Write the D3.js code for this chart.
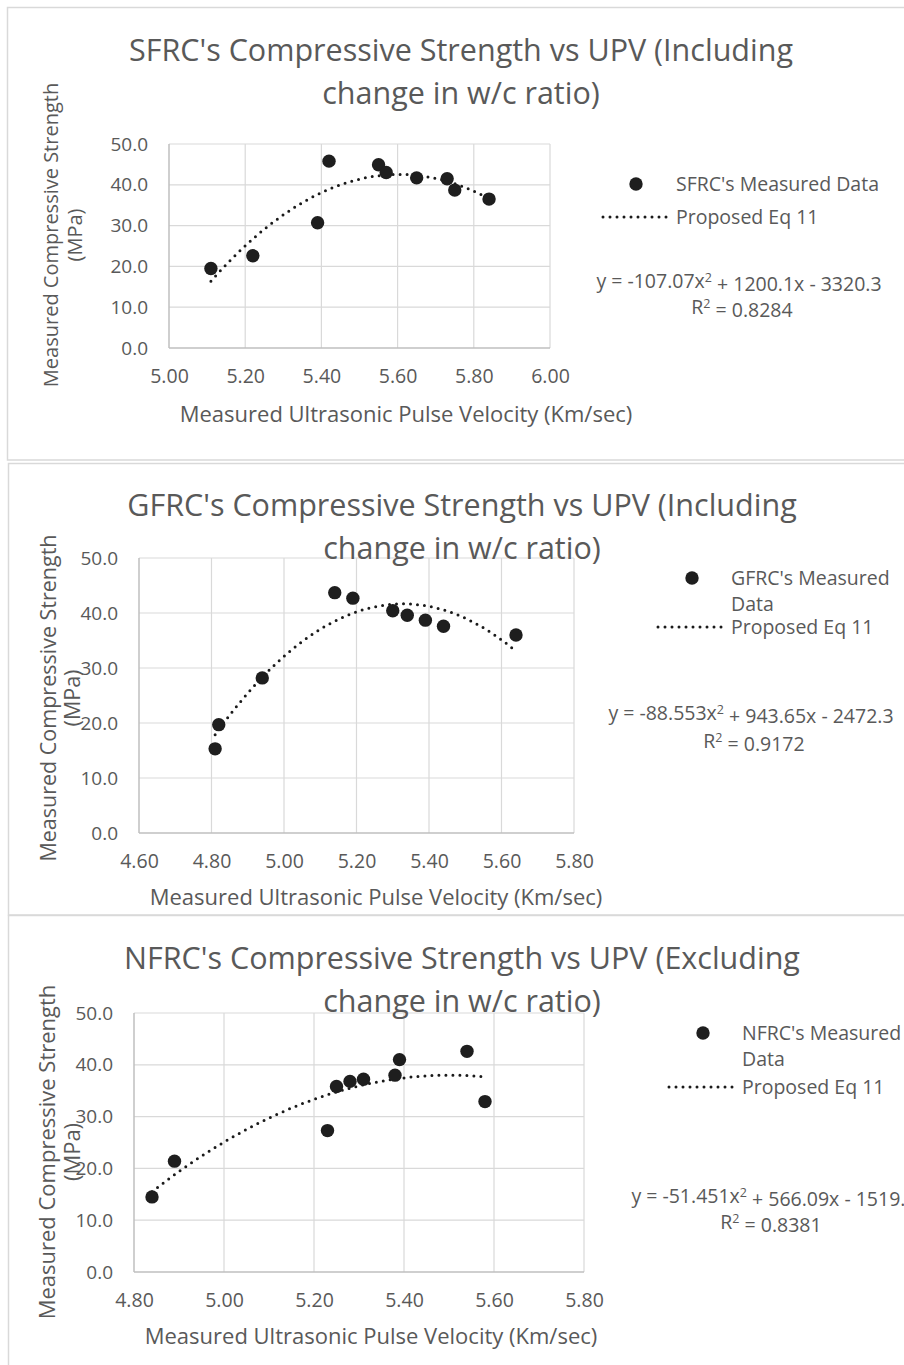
<!DOCTYPE html>
<html>
<head>
<meta charset="utf-8">
<script src="https://cdn.jsdelivr.net/npm/d3@7"></script>
<style>
  body { margin: 0; background: #fff; }
  svg { display: block; }
  text { font-family: "Open Sans", sans-serif; fill: #595959; }
</style>
</head>
<body>
<div id="chart"></div>
<script>
let sfrcUpv = [5.11, 5.22, 5.39, 5.42, 5.55, 5.57, 5.65, 5.73, 5.75, 5.84];
let sfrcStrength = [19.5, 22.6, 30.7, 45.8, 44.9, 43.0, 41.7, 41.5, 38.7, 36.5];
let gfrcUpv = [4.81, 4.82, 4.94, 5.14, 5.19, 5.30, 5.34, 5.39, 5.44, 5.64];
let gfrcStrength = [15.3, 19.7, 28.2, 43.7, 42.7, 40.4, 39.6, 38.7, 37.6, 36.0];
let nfrcUpv = [4.84, 4.89, 5.23, 5.25, 5.28, 5.31, 5.38, 5.39, 5.54, 5.58];
let nfrcStrength = [14.5, 21.4, 27.3, 35.8, 36.8, 37.2, 38.0, 41.0, 42.6, 32.9];

// proposed eq 11 coefficients (a x^2 + b x + c), as printed on each chart
let sfrcFit = [-107.07, 1200.1, -3320.3];
let gfrcFit = [-88.553, 943.65, -2472.3];
let nfrcFit = [-51.451, 566.09, -1519.1];

let sfrcXTicks = [5.0, 5.2, 5.4, 5.6, 5.8, 6.0];
let gfrcXTicks = [4.6, 4.8, 5.0, 5.2, 5.4, 5.6, 5.8];
let nfrcXTicks = [4.8, 5.0, 5.2, 5.4, 5.6, 5.8];
let yTicks = [0, 10, 20, 30, 40, 50];

let titles = [
    ["SFRC's Compressive Strength vs UPV (Including", "change in w/c ratio)"],
    ["GFRC's Compressive Strength vs UPV (Including", "change in w/c ratio)"],
    ["NFRC's Compressive Strength vs UPV (Excluding", "change in w/c ratio)"]
];
let legendNames = [["SFRC's Measured Data"], ["GFRC's Measured", "Data"], ["NFRC's Measured", "Data"]];
let r2Values = ["0.8284", "0.9172", "0.8381"];

let W = 904, H = 1365;
let svg = d3.select("#chart").append("svg")
    .attr("width", W)
    .attr("height", H);

let fmtCoef = function(v) { return String(Math.abs(v)); };

// layout per panel
let panels = [
    {upv: sfrcUpv, str: sfrcStrength, fit: sfrcFit, xt: sfrcXTicks,
     box: [7.5, 7.5, 460],
     plot: {l: 169, r: 550, t: 144, b: 348},
     titleY: [61, 104], titleX: 461,
     xTitle: [406, 422], yTitle: [50, 74, 235], ySize: 20,
     leg: {mx: 636, my: 184, tx: 676, ly: 217, lx0: 603, lx1: 668},
     eq: {x: 739, y: 288, ry: 314}},
    {upv: gfrcUpv, str: gfrcStrength, fit: gfrcFit, xt: gfrcXTicks,
     box: [8.5, 463.5, 915],
     plot: {l: 139, r: 574, t: 558, b: 833},
     titleY: [516, 559], titleX: 462,
     xTitle: [376, 905], yTitle: [48, 72, 698], ySize: 21.5,
     leg: {mx: 692, my: 578, tx: 731, ly: 627, lx0: 658, lx1: 727},
     eq: {x: 751, y: 720, ry: 748}},
    {upv: nfrcUpv, str: nfrcStrength, fit: nfrcFit, xt: nfrcXTicks,
     box: [8.5, 915.5, 1400],
     plot: {l: 134, r: 584, t: 1013, b: 1272},
     titleY: [969, 1012], titleX: 462,
     xTitle: [371, 1344], yTitle: [47, 72, 1152], ySize: 22,
     leg: {mx: 703, my: 1033, tx: 742, ly: 1087, lx0: 669, lx1: 737},
     eq: {x: 774, y: 1203, ry: 1229}}
];

panels.forEach(function(p, i) {
    let g = svg.append("g").attr("class", "panel-" + i);

    // chart area border
    g.append("rect")
        .attr("x", p.box[0]).attr("y", p.box[1])
        .attr("width", W + 20).attr("height", p.box[2] - p.box[1])
        .attr("fill", "#fff")
        .attr("stroke", "#d9d9d9")
        .attr("stroke-width", 1.5);

    let x = d3.scaleLinear().domain([p.xt[0], p.xt[p.xt.length - 1]]).range([p.plot.l, p.plot.r]);
    let y = d3.scaleLinear().domain([0, 50]).range([p.plot.b, p.plot.t]);

    // gridlines
    g.append("g").selectAll("line.vg")
        .data(p.xt.slice(1))
        .enter().append("line")
        .attr("x1", d => x(d)).attr("x2", d => x(d))
        .attr("y1", p.plot.t).attr("y2", p.plot.b)
        .attr("stroke", "#d9d9d9").attr("stroke-width", 1.2);
    g.append("g").selectAll("line.hg")
        .data(yTicks.slice(1))
        .enter().append("line")
        .attr("x1", p.plot.l).attr("x2", p.plot.r)
        .attr("y1", d => y(d)).attr("y2", d => y(d))
        .attr("stroke", "#d9d9d9").attr("stroke-width", 1.2);

    // axis lines
    g.append("line")
        .attr("x1", p.plot.l).attr("x2", p.plot.l)
        .attr("y1", p.plot.t).attr("y2", p.plot.b)
        .attr("stroke", "#bfbfbf").attr("stroke-width", 1.5);
    g.append("line")
        .attr("x1", p.plot.l).attr("x2", p.plot.r)
        .attr("y1", p.plot.b).attr("y2", p.plot.b)
        .attr("stroke", "#bfbfbf").attr("stroke-width", 1.5);

    // tick labels through d3 axes
    let xAxis = d3.axisBottom(x).tickValues(p.xt).tickFormat(d3.format(".2f"))
        .tickSize(0).tickPadding(21);
    let yAxis = d3.axisLeft(y).tickValues(yTicks).tickFormat(d3.format(".1f"))
        .tickSize(0).tickPadding(21);
    let xa = g.append("g").attr("transform", "translate(0," + p.plot.b + ")").call(xAxis);
    let ya = g.append("g").attr("transform", "translate(" + p.plot.l + ",0)").call(yAxis);
    [xa, ya].forEach(function(a, k) {
        a.select(".domain").remove();
        a.selectAll("text")
            .attr("fill", "#595959")
            .style("font-family", "'Open Sans', sans-serif")
            .style("font-size", k == 0 ? "19.5px" : "19px");
    });

    // titles
    p.titleY.forEach(function(ty, k) {
        g.append("text")
            .attr("x", p.titleX).attr("y", ty)
            .attr("text-anchor", "middle")
            .style("font-size", "30.5px")
            .text(titles[i][k]);
    });

    g.append("text")
        .attr("x", p.xTitle[0]).attr("y", i == 0 ? 422 : p.xTitle[1])
        .attr("text-anchor", "middle")
        .style("font-size", "22px")
        .text("Measured Ultrasonic Pulse Velocity (Km/sec)");

    ["Measured Compressive Strength", "(MPa)"].forEach(function(t, k) {
        g.append("text")
            .attr("transform", "translate(" + (p.yTitle[k] + 7.5) + "," + p.yTitle[2] + ") rotate(-90)")
            .attr("text-anchor", "middle")
            .style("font-size", p.ySize + "px")
            .text(t);
    });

    // fitted curve (Proposed Eq 11), evaluated from the printed equation
    let x0 = d3.min(p.upv), x1 = d3.max(p.upv);
    let curve = d3.range(0, 101).map(k => {
        let xv = x0 + (x1 - x0) * k / 100;
        return [xv, p.fit[0] * xv * xv + p.fit[1] * xv + p.fit[2]];
    });
    let line = d3.line().x(d => x(d[0])).y(d => y(d[1]));
    g.append("path")
        .datum(curve)
        .attr("d", line)
        .attr("fill", "none")
        .attr("stroke", "#1a1a1a")
        .attr("stroke-width", 3)
        .attr("stroke-linecap", "round")
        .attr("stroke-dasharray", "0,7");

    // measured points
    g.append("g").selectAll("circle")
        .data(p.upv.map((u, k) => [u, p.str[k]]))
        .enter().append("circle")
        .attr("cx", d => x(d[0]))
        .attr("cy", d => y(d[1]))
        .attr("r", 6.7)
        .attr("fill", "#1e1e1e");

    // legend
    g.append("circle")
        .attr("cx", p.leg.mx).attr("cy", p.leg.my).attr("r", 6.7)
        .attr("fill", "#1e1e1e");
    legendNames[i].forEach(function(t, k) {
        g.append("text")
            .attr("x", p.leg.tx).attr("y", p.leg.my + 26 * k)
            .attr("dy", "0.35em")
            .style("font-size", "19.5px")
            .text(t);
    });
    g.append("line")
        .attr("x1", p.leg.lx0).attr("x2", p.leg.lx1)
        .attr("y1", p.leg.ly).attr("y2", p.leg.ly)
        .attr("stroke", "#1a1a1a")
        .attr("stroke-width", 3)
        .attr("stroke-linecap", "round")
        .attr("stroke-dasharray", "0,7");
    g.append("text")
        .attr("x", p.leg.tx).attr("y", p.leg.ly)
        .attr("dy", "0.35em")
        .style("font-size", "19.5px")
        .text("Proposed Eq 11");

    // equation label
    let eq = g.append("text")
        .attr("x", p.eq.x).attr("y", p.eq.y)
        .attr("text-anchor", "middle")
        .style("font-size", "19.5px");
    eq.append("tspan").text("y = -" + fmtCoef(p.fit[0]) + "x");
    eq.append("tspan").attr("dy", "-0.45em").style("font-size", "12.5px").text("2");
    eq.append("tspan").attr("dy", "0.45em").text(" + " + fmtCoef(p.fit[1]) + "x - " + fmtCoef(p.fit[2]));
    let r2 = g.append("text")
        .attr("x", (i == 2 ? p.eq.x - 6 : p.eq.x) + 3).attr("y", p.eq.ry)
        .attr("text-anchor", "middle")
        .style("font-size", "19.5px");
    r2.append("tspan").text("R");
    r2.append("tspan").attr("dy", "-0.45em").style("font-size", "12.5px").text("2");
    r2.append("tspan").attr("dy", "0.45em").text(" = " + r2Values[i]);
});
</script>
</body>
</html>
